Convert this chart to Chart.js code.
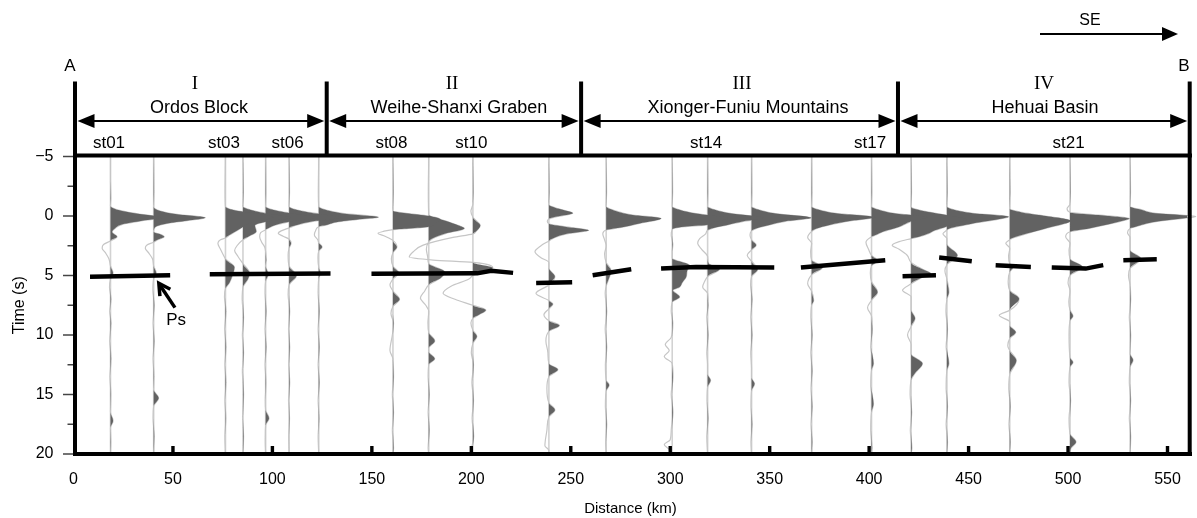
<!DOCTYPE html>
<html>
<head>
<meta charset="utf-8">
<script src="https://cdn.jsdelivr.net/npm/chart.js@4.4.1/dist/chart.umd.min.js"></script>
<style>
  html, body { margin: 0; padding: 0; background: #fff; }
  #wrap { width: 1197px; height: 518px; position: relative; }
</style>
</head>
<body>
<div id="wrap"><canvas id="rfChart"></canvas></div>
<script>
// station positions along profile A-B (km)
const stationKm = [18.6, 40.3, 76.4, 85.2, 96.6, 108.4, 123.3, 160.6, 178.6, 200.8, 239.0,
  267.8, 301.0, 318.8, 340.9, 371.1, 401.2, 421.1, 439.1, 470.7, 501.0, 531.2];
const stationNames = ['st01', 'st02', 'st03', 'st04', 'st05', 'st06', 'st07', 'st08', 'st09', 'st10', 'st11',
  'st12', 'st13', 'st14', 'st15', 'st16', 'st17', 'st18', 'st19', 'st20', 'st21', 'st22'];
const labelledStations = ['st01', 'st03', 'st06', 'st08', 'st10', 'st14', 'st17', 'st21'];

// receiver functions, [time (s), amplitude (km of offset)]
const rf01 = [[-5,0],[-3,0],[-1.5,0.2],[-0.85,0],[-0.5,4],[-0.2,13],[0.15,26],[0.4,16],[0.7,6],[1.0,2.5],[1.35,0.8],[1.75,3.3],[2.1,0],[2.4,-3.5],[2.7,-4.2],[3.1,-2.5],[3.6,-0.8],[4.2,0],[4.8,1.3],[5.3,0],[6,-0.5],[7,0.3],[8,-0.4],[9,0.3],[10.5,-0.4],[12,0.3],[13.5,-0.3],[15,0.2],[16.5,0],[17.2,1.3],[17.8,0],[19,0.2],[20,0]];
const rf02 = [[-5,0],[-2,0.2],[-0.75,0],[-0.42,3.3],[-0.14,11.7],[0.15,26],[0.39,16.7],[0.62,6.7],[0.84,1.7],[1.05,0.3],[1.35,0],[1.55,3.5],[1.75,5.3],[2.0,2],[2.2,0],[2.45,-3.5],[2.7,-4.2],[3.1,-2.5],[3.6,-0.6],[4.2,0],[4.8,1.3],[5.3,0],[6.2,-0.4],[7.5,0.3],[9,-0.3],[10.5,0.3],[12,-0.3],[13.5,0.2],[14.6,0],[15.3,2.5],[16,0],[17,-0.3],[18.5,0.3],[20,0]];
const rf03 = [[-5,0],[-2,-0.2],[-0.8,0],[-0.5,4],[-0.35,9],[0.1,24],[0.5,14],[0.9,9],[1.3,5],[1.6,2],[1.85,0],[2.0,-2.5],[2.3,-3.8],[2.8,-2.5],[3.3,-1],[3.6,0],[4.3,4.5],[5.0,3.5],[5.6,2],[6.1,0],[6.8,-0.5],[8,0.3],[9.5,-0.4],[11,0.3],[12.5,-0.3],[14,0.3],[15.5,-0.3],[17,0.2],[18.5,-0.3],[20,0]];
const rf04 = [[-5,0],[-2,0.2],[-0.8,0],[-0.5,4],[-0.3,9],[0.15,24],[0.5,11],[0.8,6],[1.3,6.7],[1.7,3],[2.0,0],[2.5,-3],[2.9,-4.2],[3.4,-2.5],[4.0,0],[4.8,3.3],[5.3,2.5],[6.0,0],[7,-0.4],[8.5,0.3],[10,-0.3],[11.5,0.3],[13,-0.3],[15,0.3],[17,-0.2],[18.5,0.3],[20,0]];
const rf05 = [[-5,0],[-2,0.2],[-0.8,0],[-0.5,4],[-0.3,10],[0.15,26],[0.45,13],[0.75,5],[1.0,1.5],[1.15,0],[1.4,-2.5],[1.75,-3],[2.2,-2],[2.6,-0.5],[3,0],[3.7,0.3],[4.2,0],[4.9,1.3],[5.5,0],[6.5,-0.3],[8,0.3],[9.5,-0.3],[11,0.3],[12.5,-0.3],[14,0.2],[15.5,-0.2],[16.3,0],[17,1.7],[17.6,0],[19,-0.2],[20,0]];
const rf06 = [[-5,0],[-2,0.2],[-0.8,0],[-0.5,4],[-0.3,10],[0.15,26],[0.45,12],[0.75,4],[1.0,0],[1.25,-4],[1.45,-5.5],[1.7,-3],[1.95,0],[2.3,1],[2.7,0],[3.3,-0.5],[4.2,0],[5.0,3.7],[5.8,0],[6.6,-0.5],[8,0.3],[9.5,-0.3],[11,0.3],[12.5,-0.2],[14,0.3],[15.5,-0.3],[17,0.2],[18.5,-0.2],[20,0]];
const rf07 = [[-5,0],[-2,-0.2],[-0.8,0],[-0.5,3.7],[-0.22,12],[0.1,30],[0.25,22],[0.48,10],[0.76,3.7],[0.9,0],[1.2,-1.5],[1.6,-2.2],[2.0,-0.5],[2.25,0],[2.6,1.7],[2.95,0],[3.5,-0.4],[4.3,0],[4.8,0.8],[5.3,0],[6.5,-0.3],[8,0.3],[9.5,-0.3],[11,0.3],[12.5,-0.3],[14,0.3],[15.5,-0.3],[17,0.2],[18.5,-0.3],[20,0]];
const rf08 = [[-5,0],[-2,0.2],[-0.45,0],[-0.23,6.7],[0,18],[0.3,24],[0.6,21],[0.9,18],[1.05,8],[1.15,0],[1.3,-5],[1.45,-7.5],[1.7,-4],[2.05,0],[2.6,2],[3.1,0],[3.6,-0.8],[4.2,0],[4.8,3],[5.3,0],[5.8,-1.5],[6.3,0],[7.0,3.3],[7.6,0],[8.2,-1],[9,0.3],[10,-0.3],[11.3,-1.5],[12,0],[13.5,0.3],[15,-0.3],[16.5,0.3],[18,-0.3],[19.5,0.3],[20,0]];
const rf09 = [[-5,0],[-2,-0.2],[-0.1,0],[0.43,8.7],[0.8,15],[1.04,17.9],[1.46,8.7],[1.88,2],[2.17,0],[2.8,-1.2],[3.5,-0.5],[4.0,0],[4.7,8],[5.2,6],[5.8,0],[6.3,-2],[6.9,-4.2],[7.5,-1.5],[8,0],[9,-0.4],[9.8,0],[10.5,3],[11.1,0],[11.4,0],[12.0,3],[12.5,0],[13.5,-0.3],[15,0.3],[16.5,-0.3],[18,0.3],[19.5,-0.3],[20,0]];
const rf10 = [[-5,0],[-2,0.2],[-1,0],[-0.4,-1],[0.1,0],[0.8,3.7],[1.3,1.5],[1.5,0],[1.8,-10],[2.45,-25],[3.0,-30],[3.45,-32],[3.7,-20],[3.9,0],[4.35,10],[4.7,5],[5.0,0],[5.3,-2],[5.9,-11],[6.5,-15],[7.0,-9],[7.5,0],[7.9,6.5],[8.3,3],[8.6,0],[9.0,-1],[9.6,0],[10.1,2],[10.7,0],[11.5,-0.8],[12.5,0.3],[14,-0.5],[15.5,0.3],[17,-0.4],[18.5,0.4],[19.5,-0.5],[20,0]];
const rf11 = [[-5,0],[-2,0.2],[-0.95,0],[-0.6,5],[-0.23,12],[0.05,4],[0.25,0],[0.45,-0.8],[0.65,0],[0.9,8],[1.2,20],[1.5,9],[1.8,3],[2.1,0],[2.5,-4],[3.0,-7],[3.5,-4],[3.9,0],[4.4,0],[5.1,3],[5.8,0],[6.5,-6.5],[7.1,0],[7.4,2],[7.8,0],[8.3,-2.5],[8.8,0],[9.2,5.3],[9.7,0],[10.5,-1.5],[11.5,-0.5],[12.4,0],[12.9,4.5],[13.5,0],[14.5,-1],[15.7,0],[16.3,3],[16.9,0],[18,-1],[19.3,-2],[19.7,0],[20,0]];
const rf12 = [[-5,0],[-2,0.2],[-0.8,0],[-0.51,3.3],[-0.08,13.4],[0.2,27.6],[0.62,16.7],[0.99,6.7],[1.18,0],[1.5,-1.7],[1.9,-1],[2.5,0],[3.2,-0.8],[3.9,0],[4.6,2.5],[5.4,1],[5.9,0],[6.5,-0.5],[8,0.3],[9.5,-0.5],[11,0.3],[12.5,-0.4],[13.8,0],[14.2,1.5],[14.7,0],[16,-0.4],[17.5,0.3],[19,-0.3],[20,0]];
const rf13 = [[-5,0],[-2,0.2],[-0.8,0],[-0.5,4],[-0.2,12],[0.2,28],[0.5,21],[0.76,17],[0.9,6],[1.13,0],[1.6,-0.5],[2.4,0.3],[3.0,0],[3.55,0],[4.14,8.7],[4.6,7.5],[5.12,7],[5.6,5],[5.96,3.7],[6.24,0.3],[6.8,3.7],[7.25,0],[8,-0.5],[9,0.3],[10.2,-0.5],[10.8,-3.5],[11.3,-1.5],[11.8,-4],[12.4,0],[13.5,0.4],[15,-0.5],[16.5,0.4],[18,-0.5],[18.8,-1],[19.2,-4],[19.6,-1.5],[20,0]];
const rf14 = [[-5,0],[-2,0.2],[-0.8,0],[-0.5,4],[-0.2,12],[0.15,28],[0.45,18],[0.75,10],[1.0,3],[1.2,0],[1.5,-1],[1.9,-4],[2.3,-5],[2.8,-3],[3.4,0],[4.0,0.5],[4.45,6],[5.1,0],[5.5,-1.5],[5.96,-2.5],[6.5,0],[7.5,0.3],[8.5,-0.4],[10,0.3],[11.5,-0.4],[12.5,0],[13.3,0],[13.8,1.5],[14.4,0],[15.5,-0.3],[17,0.3],[18.5,-0.4],[20,0]];
const rf15 = [[-5,0],[-2,0.2],[-0.8,0],[-0.5,4],[-0.2,12],[0.15,30],[0.45,17],[0.75,9],[1.0,3],[1.25,0],[1.6,-0.8],[2.0,0],[2.45,2.3],[2.85,0],[3.3,-2.2],[3.8,0],[4.5,3],[5.1,0],[5.8,-0.5],[7,0.3],[8.5,-0.4],[10,0.3],[11.5,-0.4],[12.8,0],[13.6,0],[14.1,1.5],[14.7,0],[16,-0.3],[17.5,0.3],[19,-0.3],[20,0]];
const rf16 = [[-5,0],[-2,0.2],[-0.8,0],[-0.5,4],[-0.2,13],[0.1,32],[0.4,20],[0.75,9],[1.05,2.5],[1.3,0],[1.8,-2],[2.3,0],[3.0,-0.5],[3.7,0],[4.3,5.5],[4.95,0],[5.7,-2],[6.3,0],[7.1,1],[7.5,0],[8.5,-0.4],[10,0.3],[11.5,-0.4],[13,0.3],[14.5,-0.3],[16,0.3],[17.5,-0.3],[19,0.3],[20,0]];
const rf17 = [[-5,0],[-2,0.2],[-0.8,0],[-0.5,4],[-0.2,12],[0.1,28],[0.45,20],[0.9,14],[1.3,6],[1.6,2],[1.75,0],[2.2,-2.8],[2.8,-1.5],[3.3,0],[3.75,3],[4.2,0],[4.8,-0.6],[5.5,0],[6.4,3],[7.1,0],[7.7,-2],[8.4,0],[9.5,0.4],[11,-0.4],[12.4,1],[13,0],[14.3,-0.4],[15.8,1],[16.5,0],[18,-0.4],[19.5,0.3],[20,0]];
const rf18 = [[-5,0],[-2,0.2],[-0.75,0],[-0.37,7.5],[-0.08,17.6],[0.3,28],[0.6,22],[0.9,17.6],[1.2,12],[1.46,9],[1.74,4],[1.9,0],[2.15,-6],[2.45,-9.5],[2.8,-6],[3.3,-2],[3.9,0],[4.5,6],[4.84,9.9],[5.2,5],[5.7,0],[6.24,-4.3],[6.8,0],[7.9,0],[8.6,2],[9.3,0],[10,-1.8],[10.8,0],[11.6,0],[12.4,5.7],[13.2,2],[13.8,0],[15,-0.5],[16.5,0.3],[18,-0.4],[19.5,0.4],[20,0]];
const rf19 = [[-5,0],[-2,0.2],[-0.8,0],[-0.5,4],[-0.23,13],[0.06,31],[0.2,28],[0.62,13],[1.04,1.3],[1.18,0],[1.5,-2],[1.9,0],[2.35,0],[3.3,5.3],[4.1,0],[4.6,-1],[5.3,0],[6.4,1],[7.0,0],[8,-0.5],[9.5,0.3],[11,-0.4],[12.4,1],[13,0],[14.5,-0.4],[16,0.3],[17.5,-0.4],[19,0.3],[20,0]];
const rf20 = [[-5,0],[-2,0.2],[-0.6,0],[-0.3,6],[-0.08,14.6],[0.4,30.6],[1.04,18],[1.46,9],[1.88,1],[2.0,0],[2.3,-2],[2.7,0],[3.4,-0.6],[4.0,0],[4.35,1.5],[4.7,0],[5.5,-0.8],[6.24,0],[6.95,4.7],[7.93,0],[8.35,-5.3],[8.9,0],[9.2,0],[9.76,3],[10.3,0],[10.9,-1],[11.3,0],[12.15,3.3],[13.3,0],[14.5,-0.5],[16,0.3],[17.5,-0.4],[19,0.3],[20,0]];
const rf21 = [[-5,0],[-2,0.2],[-1,0],[-0.6,-1.5],[-0.3,0],[-0.03,17.8],[0.22,30],[0.34,28],[1.04,9.5],[1.32,0],[1.74,-2.2],[2.3,0],[2.9,-0.5],[3.6,0],[4.28,6.2],[5.0,0],[5.6,-1],[6.3,0],[7.2,-0.6],[7.9,0],[8.4,1.5],[8.8,0],[10,-0.5],[11.9,0],[12.3,1.5],[12.7,0],[14,-0.5],[15.5,0.3],[17,-0.5],[18.3,0],[19,3],[19.5,0.5],[20,0]];
const rf22 = [[-5,0],[-2,0.2],[-0.8,0],[-0.51,6],[-0.23,12.9],[0.04,33],[0.14,29.6],[0.48,12.9],[0.9,2.8],[1.05,0],[1.4,-1.3],[1.8,0],[2.87,0],[3.57,5.4],[4.4,0],[5,-0.8],[5.8,0],[7,0.3],[8.5,-0.4],[10,0.3],[11.6,0],[12.1,1.5],[12.7,0],[14,-0.4],[15.5,0.3],[17,-0.4],[18.5,0.3],[20,0]];
const traces = [rf01, rf02, rf03, rf04, rf05, rf06, rf07, rf08, rf09, rf10, rf11,
  rf12, rf13, rf14, rf15, rf16, rf17, rf18, rf19, rf20, rf21, rf22];

// picked Ps conversions, [km, time]
const psPicks = [
  [[8.3, 5.1], [48.6, 4.98]],
  [[68.5, 4.89], [129.2, 4.84]],
  [[149.8, 4.86], [203, 4.82], [210, 4.6], [221, 4.78]],
  [[232.6, 5.63], [250.7, 5.57]],
  [[261, 4.98], [280.4, 4.47]],
  [[295.4, 4.42], [313, 4.28], [352.3, 4.33]],
  [[365.7, 4.33], [408.1, 3.71]],
  [[416.8, 5.06], [433.6, 4.98]],
  [[435.2, 3.49], [451.6, 3.8]],
  [[463.6, 4.13], [481.3, 4.28]],
  [[491.8, 4.33], [508.9, 4.42], [517.7, 4.13]],
  [[527.8, 3.71], [544.6, 3.63]]
];

const regionBounds = [0, 127.3, 255.2, 414.5, 560];
const regionNumerals = ['I', 'II', 'III', 'IV'];
const regionNames = ['Ordos Block', 'Weihe-Shanxi Graben', 'Xionger-Funiu Mountains', 'Hehuai Basin'];
const xTicks = [0, 50, 100, 150, 200, 250, 300, 350, 400, 450, 500, 550];
const yTicks = [-5, 0, 5, 10, 15, 20];

const FONT = '"Liberation Sans", Arial, Helvetica, sans-serif';
const SERIF = '"Liberation Serif", "Times New Roman", serif';
Chart.defaults.font.family = FONT;
Chart.defaults.color = '#000';

const toPts = (st, tr, clip) => tr.map(([t, a]) => ({ x: st + (clip ? Math.max(a, 0) : a), y: t }));

const datasets = [];
psPicks.forEach(seg => {
  datasets.push({
    data: seg.map(([k, t]) => ({ x: k, y: t })),
    indexAxis: 'x', borderColor: '#000', borderWidth: 4.5, borderCapStyle: 'butt',
    pointRadius: 0, fill: false, order: 0, clip: false
  });
});
traces.forEach((tr, i) => {
  const st = stationKm[i];
  datasets.push({
    data: toPts(st, tr, true), indexAxis: 'y',
    fill: { value: st }, backgroundColor: '#626262',
    borderColor: 'rgba(0,0,0,0)', borderWidth: 0,
    pointRadius: 0, cubicInterpolationMode: 'monotone', order: 1
  });
  datasets.push({
    data: toPts(st, tr, false), indexAxis: 'y', fill: false,
    borderColor: '#c6c6c6', borderWidth: 1.2,
    pointRadius: 0, cubicInterpolationMode: 'monotone', order: 2, clip: false
  });
  datasets.push({
    data: [{ x: st, y: -5 }, { x: st, y: 20 }], indexAxis: 'y', fill: false,
    borderColor: '#d2d2d2', borderWidth: 1.6, pointRadius: 0, order: 3
  });
});

function head(ctx, x, y, dir, len, half) {
  ctx.beginPath();
  ctx.moveTo(x, y);
  ctx.lineTo(x - dir * len, y - half);
  ctx.lineTo(x - dir * len, y + half);
  ctx.closePath();
  ctx.fill();
}

const frame = {
  id: 'frame',
  afterDatasetsDraw(chart) {
    const { ctx, scales: { x, y } } = chart;
    ctx.save();
    // y ticks, outside
    ctx.strokeStyle = '#444';
    ctx.lineWidth = 1.5;
    for (let v = -5; v <= 20; v += 2.5) {
      const py = y.getPixelForValue(v);
      const len = v % 5 === 0 ? 10 : 5.5;
      ctx.beginPath();
      ctx.moveTo(73 - len, py);
      ctx.lineTo(73, py);
      ctx.stroke();
    }
    // x ticks, inside
    ctx.fillStyle = '#000';
    xTicks.slice(1).forEach(v => {
      const px = x.getPixelForValue(v);
      ctx.fillRect(px - 1.7, 446, 3.4, 8);
    });
    // box
    ctx.strokeStyle = '#000';
    ctx.lineWidth = 4;
    ctx.beginPath();
    ctx.moveTo(75, 155.5); ctx.lineTo(75, 456);
    ctx.moveTo(73, 454); ctx.lineTo(1192, 454);
    ctx.moveTo(1189.7, 156); ctx.lineTo(1189.7, 456);
    ctx.stroke();

    // Ps arrow
    const tx = x.getPixelForValue(42.9), ty = y.getPixelForValue(5.65);
    const sx = x.getPixelForValue(51), sy = y.getPixelForValue(7.7);
    ctx.lineWidth = 3.5;
    ctx.lineCap = 'butt';
    ctx.beginPath();
    ctx.moveTo(sx, sy); ctx.lineTo(tx + 1.5, ty + 2.5);
    ctx.stroke();
    const ang = Math.atan2(sy - ty, sx - tx);
    ctx.beginPath();
    ctx.moveTo(tx + 13 * Math.cos(ang - 0.5), ty + 13 * Math.sin(ang - 0.5));
    ctx.lineTo(tx, ty);
    ctx.lineTo(tx + 13 * Math.cos(ang + 0.5), ty + 13 * Math.sin(ang + 0.5));
    ctx.stroke();
    ctx.font = '17px ' + FONT;
    ctx.textAlign = 'center';
    ctx.textBaseline = 'middle';
    ctx.fillText('Ps', x.getPixelForValue(51.6), y.getPixelForValue(8.8));
    ctx.restore();
  },
  afterDraw(chart) {
    const { ctx, scales: { x } } = chart;
    ctx.save();
    ctx.fillStyle = '#000';
    ctx.strokeStyle = '#000';
    // header frame
    ctx.lineWidth = 4;
    ctx.beginPath();
    ctx.moveTo(73, 155.5); ctx.lineTo(1192, 155.5);
    regionBounds.forEach((b, i) => {
      let px = x.getPixelForValue(b);
      if (i === 0) px = 75;
      if (i === regionBounds.length - 1) px = 1189.7;
      ctx.moveTo(px, 81.5); ctx.lineTo(px, 157);
    });
    ctx.stroke();

    // region arrows and names
    ctx.lineWidth = 2;
    ctx.textAlign = 'center';
    ctx.textBaseline = 'middle';
    const nameX = [199, 459, 748, 1045];
    const numX = [195, 452, 742, 1044];
    for (let i = 0; i < regionNames.length; i++) {
      const x0 = (i === 0 ? 75 : x.getPixelForValue(regionBounds[i])) + 2.5;
      const x1 = (i === regionNames.length - 1 ? 1189.7 : x.getPixelForValue(regionBounds[i + 1])) - 2.5;
      ctx.beginPath();
      ctx.moveTo(x0 + 10, 121); ctx.lineTo(x1 - 10, 121);
      ctx.stroke();
      head(ctx, x1, 121, 1, 17, 7);
      head(ctx, x0, 121, -1, 17, 7);
      ctx.font = '18px ' + FONT;
      ctx.fillText(regionNames[i], nameX[i], 108);
      ctx.font = '19px ' + SERIF;
      ctx.fillText(regionNumerals[i], numX[i], 84);
    }

    // station labels
    ctx.font = '17px ' + FONT;
    labelledStations.forEach(name => {
      const k = stationKm[stationNames.indexOf(name)];
      ctx.fillText(name, x.getPixelForValue(k) - 1.5, 143);
    });

    // profile ends and direction
    ctx.fillText('A', 70, 66);
    ctx.fillText('B', 1184, 66);
    ctx.font = '16px ' + FONT;
    ctx.fillText('SE', 1090, 21);
    ctx.lineWidth = 2;
    ctx.beginPath();
    ctx.moveTo(1040, 34); ctx.lineTo(1166, 34);
    ctx.stroke();
    head(ctx, 1178, 34, 1, 16, 7);
    ctx.restore();
  }
};

new Chart(document.getElementById('rfChart'), {
  type: 'line',
  data: { datasets },
  options: {
    indexAxis: 'y',
    responsive: true,
    maintainAspectRatio: false,
    animation: false,
    events: [],
    layout: { padding: { top: 156.5, right: 8.6, left: 0, bottom: 0 } },
    plugins: {
      legend: { display: false },
      tooltip: { enabled: false },
      filler: { drawTime: 'beforeDatasetDraw' }
    },
    scales: {
      x: {
        type: 'linear', position: 'bottom', min: 0, max: 560,
        afterBuildTicks: s => { s.ticks = xTicks.map(v => ({ value: v })); },
        afterFit: s => { s.height = 64; },
        border: { display: false },
        grid: { display: false, drawTicks: false },
        ticks: { padding: 16, maxRotation: 0, autoSkip: false, font: { size: 16 }, color: '#000' },
        title: { display: true, text: 'Distance (km)', font: { size: 15 }, color: '#000', padding: { top: 4, bottom: 0 } }
      },
      y: {
        type: 'linear', position: 'left', min: -5, max: 20, reverse: true,
        afterBuildTicks: s => { s.ticks = yTicks.map(v => ({ value: v })); },
        afterFit: s => { s.width = 73.5; },
        border: { display: false },
        grid: { display: false, drawTicks: false },
        ticks: {
          padding: 20, font: { size: 16 }, color: '#000',
          callback: v => v < 0 ? '\u2212' + Math.abs(v) : String(v)
        },
        title: { display: true, text: 'Time (s)', font: { size: 16 }, color: '#000', padding: { top: 10, bottom: 0 } }
      }
    }
  },
  plugins: [frame]
});
</script>
</body>
</html>
